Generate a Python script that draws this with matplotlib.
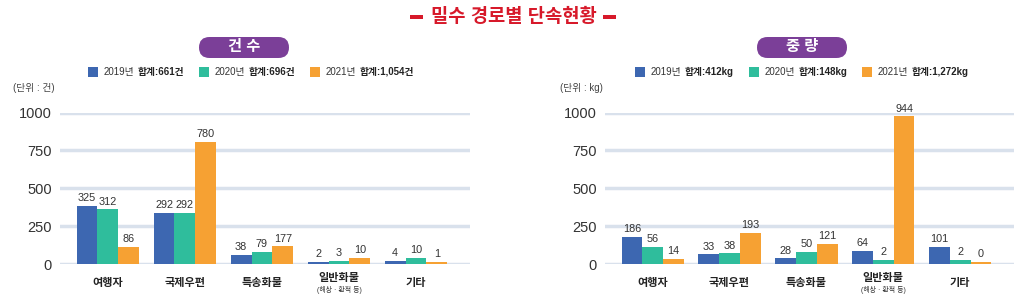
import numpy as np
import matplotlib
matplotlib.use('Agg')
import matplotlib.pyplot as plt
from matplotlib.patches import FancyBboxPatch, Rectangle
from matplotlib.offsetbox import TextArea, DrawingArea, HPacker, AnchoredOffsetbox

# 숫자는 Liberation Sans, 한글은 Noto Sans CJK KR
plt.rcParams['font.family'] = ['Liberation Sans', 'Noto Sans CJK KR', 'DejaVu Sans']

# 데이터
categories = ['여행자', '국제우편', '특송화물', '일반화물', '기타']
years = ['2019년', '2020년', '2021년']
colors = ['#3d67b1', '#2fbd9c', '#f6a133']

# 건수 (라벨 값)
count_2019 = [325, 292, 38, 2, 4]
count_2020 = [312, 292, 79, 3, 10]
count_2021 = [86, 780, 177, 10, 1]
count_totals = ['661건', '696건', '1,054건']
# 건수 막대 높이
count_bar_2019 = [384, 336, 59, 15, 22]
count_bar_2020 = [360, 336, 79, 22, 42]
count_bar_2021 = [114, 808, 116, 42, 15]

# 중량 (라벨 값)
weight_2019 = [186, 33, 28, 64, 101]
weight_2020 = [56, 38, 50, 2, 2]
weight_2021 = [14, 193, 121, 944, 0]
weight_totals = ['412kg', '148kg', '1,272kg']
# 중량 막대 높이
weight_bar_2019 = [180, 64, 37, 88, 114]
weight_bar_2020 = [114, 70, 81, 28, 28]
weight_bar_2021 = [33, 206, 132, 975, 15]

yticks = [0, 250, 500, 750, 1000]

W, H = 1024, 304
fig = plt.figure(figsize=(W / 100, H / 100), dpi=100)


def px_axes(x0, x1, ytop, ybot):
    return fig.add_axes([x0 / W, (H - ybot) / H, (x1 - x0) / W, (ybot - ytop) / H])


def draw_panel(ax, bars, labels):
    x = np.arange(len(categories))
    bw = 0.27
    for i, (hts, lbls) in enumerate(zip(bars, labels)):
        xs = x + (i - 1) * bw
        ax.bar(xs, hts, width=bw, color=colors[i], zorder=3)
        for xx, h, l in zip(xs, hts, lbls):
            ax.annotate(str(l), (xx, h), xytext=(0, 2), textcoords='offset points',
                        ha='center', va='bottom', fontsize=7.8, color='#333333',
                        annotation_clip=False)
    ax.set_xlim(-0.62, 4.7)
    ax.set_ylim(0, 1000)
    ax.set_yticks(yticks)
    ax.set_yticklabels([str(t) for t in yticks], fontsize=10.5, color='#333333')
    ax.tick_params(axis='y', length=0, pad=6)
    ax.set_xticks([])
    ax.yaxis.grid(True, color='#d9e1ec', linewidth=2.5, zorder=0)
    ax.set_axisbelow(True)
    for s in ax.spines.values():
        s.set_visible(False)
    for i, c in enumerate(categories):
        if c == '일반화물':
            ax.text(i, -0.09, c, transform=ax.get_xaxis_transform(), ha='center',
                    va='center', fontsize=8, fontweight='bold', color='#222222')
            ax.text(i, -0.17, '(해상 · 환적 등)', transform=ax.get_xaxis_transform(),
                    ha='center', va='center', fontsize=5, color='#333333')
        else:
            ax.text(i, -0.125, c, transform=ax.get_xaxis_transform(), ha='center',
                    va='center', fontsize=8, fontweight='bold', color='#222222')


def pill(cx, cy, text):
    w, h = 0.90, 0.21
    x0 = cx / 100 - w / 2
    y0 = (H - cy) / 100 - h / 2
    p = FancyBboxPatch((x0, y0), w, h, boxstyle='round,pad=0,rounding_size=0.105',
                       transform=fig.dpi_scale_trans, fc='#7b3f98', ec='none')
    fig.add_artist(p)
    fig.text(cx / W, (H - cy) / H, text, ha='center', va='center', fontsize=11,
             fontweight='bold', color='white')


def legend(cx, cy, totals):
    items = []
    for c, yr, tot in zip(colors, years, totals):
        da = DrawingArea(7, 7, 0, 0)
        da.add_artist(Rectangle((0, 0), 7, 7, fc=c, ec='none'))
        t1 = TextArea(yr, textprops=dict(fontsize=7, color='#333333'))
        t2 = TextArea('합계:' + tot, textprops=dict(fontsize=7, color='#222222', fontweight='bold'))
        items.append(HPacker(children=[da, HPacker(children=[t1, t2], pad=0, sep=2.5)],
                             align='center', pad=0, sep=4))
    pack = HPacker(children=items, align='center', pad=0, sep=11)
    ab = AnchoredOffsetbox(loc='center', child=pack, bbox_to_anchor=(cx / W, (H - cy) / H),
                           bbox_transform=fig.transFigure, frameon=False, pad=0, borderpad=0)
    fig.add_artist(ab)


# 제목
fig.text(514 / W, (H - 17) / H, '밀수 경로별 단속현황', ha='center', va='center',
         fontsize=13.5, fontweight='bold', color='#d7192a')
for x0 in (410, 603):
    fig.add_artist(Rectangle((x0 / 100, (H - 19) / 100), 0.13, 0.035,
                             transform=fig.dpi_scale_trans, fc='#d7192a', ec='none'))

# 건수
pill(244, 47.5, '건 수')
legend(251, 72, count_totals)
fig.text(13 / W, (H - 88) / H, '(단위 : 건)', ha='left', va='center', fontsize=7, color='#444444')
ax1 = px_axes(60, 470, 112.5, 264)
draw_panel(ax1, [count_bar_2019, count_bar_2020, count_bar_2021],
           [count_2019, count_2020, count_2021])

# 중량
pill(802, 47.5, '중 량')
legend(802, 72, weight_totals)
fig.text(560 / W, (H - 88) / H, '(단위 : kg)', ha='left', va='center', fontsize=7, color='#444444')
ax2 = px_axes(605, 1014, 112.5, 264)
draw_panel(ax2, [weight_bar_2019, weight_bar_2020, weight_bar_2021],
           [weight_2019, weight_2020, weight_2021])

fig.savefig('out.png', dpi=100, facecolor='white')
